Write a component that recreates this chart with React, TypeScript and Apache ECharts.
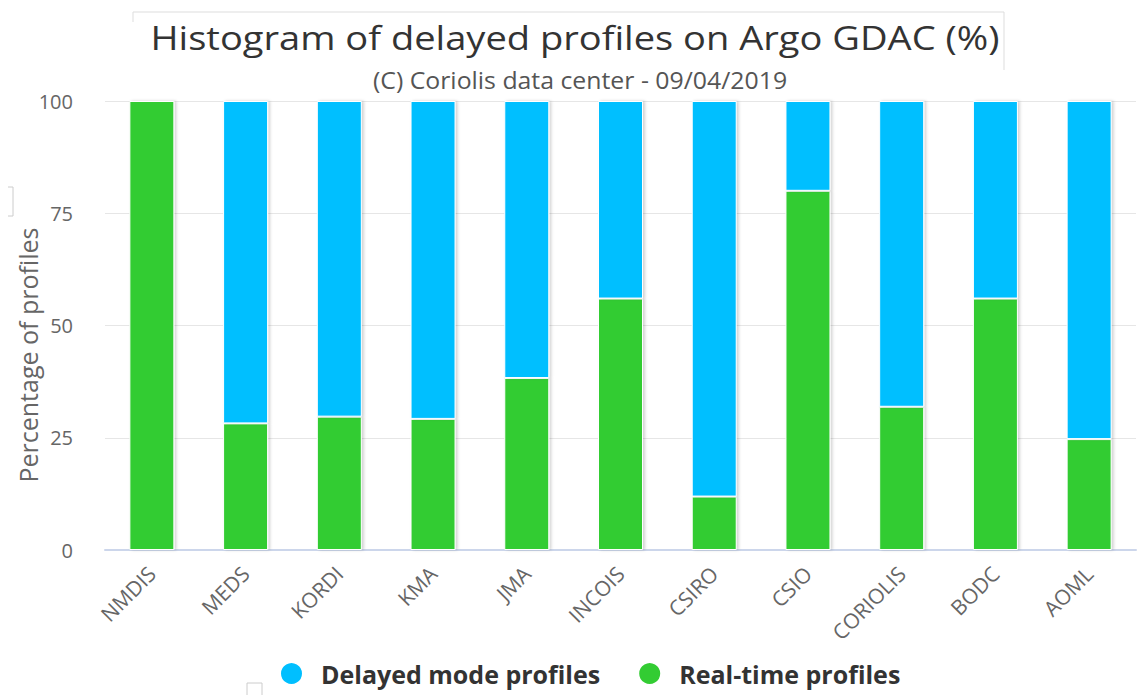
import React, { useEffect, useRef } from "react";
import * as echarts from "echarts";

const categories = ["NMDIS", "MEDS", "KORDI", "KMA", "JMA", "INCOIS", "CSIRO", "CSIO", "CORIOLIS", "BODC", "AOML"];
const realTime = [100, 28.2, 29.7, 29.2, 38.3, 56, 11.9, 80, 31.9, 56, 24.7];
const delayed = [0, 71.8, 70.3, 70.8, 61.7, 44, 88.1, 20, 68.1, 44, 75.3];
const yTicks = [0, 25, 50, 75, 100];

const titleText = "Histogram of delayed profiles on Argo GDAC (%)";
const subtitleText = "(C) Coriolis data center - 09/04/2019";
const yAxisTitle = "Percentage of profiles";

export default function App() {
  const ref = useRef<HTMLDivElement>(null);
  useEffect(() => {
    if (!ref.current) return;
    const chart = echarts.init(ref.current, undefined, { renderer: "svg" });
    const font = "'Open Sans', 'DejaVu Sans', sans-serif";
    const barStyle = (color: string) => ({
      color,
      borderColor: "#ffffff",
      borderWidth: 1,
      shadowColor: "rgba(0,0,0,0.18)",
      shadowBlur: 3,
      shadowOffsetX: 2,
      shadowOffsetY: 0,
    });
    chart.setOption({
      animation: false,
      backgroundColor: "#ffffff",
      legend: {
        data: ["Delayed mode profiles", "Real-time profiles"],
        left: 274,
        top: 656,
        icon: "circle",
        itemWidth: 49,
        itemHeight: 23,
        itemGap: 37,
        symbolKeepAspect: true,
        textStyle: { fontFamily: font, fontSize: 25, fontWeight: "bold", color: "#333333" },
      },
      grid: { left: 105, top: 101, width: 1031, height: 449, containLabel: false },
      xAxis: {
        type: "category",
        data: categories,
        axisLine: { lineStyle: { color: "#ccd6eb", width: 2 } },
        axisTick: { show: false },
        axisLabel: { rotate: 45, fontFamily: font, fontSize: 21, color: "#666666", margin: 20, interval: 0 },
      },
      yAxis: {
        type: "value",
        min: yTicks[0],
        max: yTicks[yTicks.length - 1],
        interval: 25,
        axisLine: { show: false },
        axisTick: { show: false },
        axisLabel: { fontFamily: font, fontSize: 20, color: "#666666", margin: 32 },
        splitLine: { lineStyle: { color: "#e6e6e6", width: 1 } },
      },
      series: [
        {
          name: "Real-time profiles",
          type: "bar",
          stack: "total",
          data: realTime,
          barWidth: 45,
          itemStyle: barStyle("#33cc33"),
        },
        {
          name: "Delayed mode profiles",
          type: "bar",
          stack: "total",
          data: delayed,
          barWidth: 45,
          itemStyle: barStyle("#00bfff"),
        },
      ],
      graphic: [
        {
          type: "text",
          x: 575,
          y: 37,
          scaleX: 1.19,
          style: {
            text: titleText,
            fontFamily: font,
            fontSize: 32,
            fill: "#333333",
            align: "center",
            verticalAlign: "middle",
          },
          silent: true,
        },
        {
          type: "text",
          x: 580,
          y: 80,
          scaleX: 1.08,
          style: {
            text: subtitleText,
            fontFamily: font,
            fontSize: 23,
            fill: "#555555",
            align: "center",
            verticalAlign: "middle",
          },
          silent: true,
        },
        {
          type: "text",
          x: 28,
          y: 355,
          rotation: Math.PI / 2,
          style: {
            text: yAxisTitle,
            fontFamily: font,
            fontSize: 25,
            fill: "#666666",
            align: "center",
            verticalAlign: "middle",
          },
          silent: true,
        },
        {
          type: "polyline",
          shape: { points: [[133, 22], [133, 12], [1004, 12], [1004, 70]] },
          style: { stroke: "#dddddd", lineWidth: 1, fill: "none" },
          silent: true,
        },
        {
          type: "polyline",
          shape: { points: [[8, 187], [13, 187], [13, 216], [8, 216]] },
          style: { stroke: "#cccccc", lineWidth: 1, fill: "none" },
          silent: true,
        },
        {
          type: "rect",
          shape: { x: 247, y: 683, width: 15, height: 14 },
          style: { stroke: "#cccccc", lineWidth: 1, fill: "none" },
          silent: true,
        },
      ],
    });
    return () => chart.dispose();
  }, []);
  return <div ref={ref} style={{ position: "absolute", left: 0, top: 0, width: 1137, height: 695 }} />;
}
